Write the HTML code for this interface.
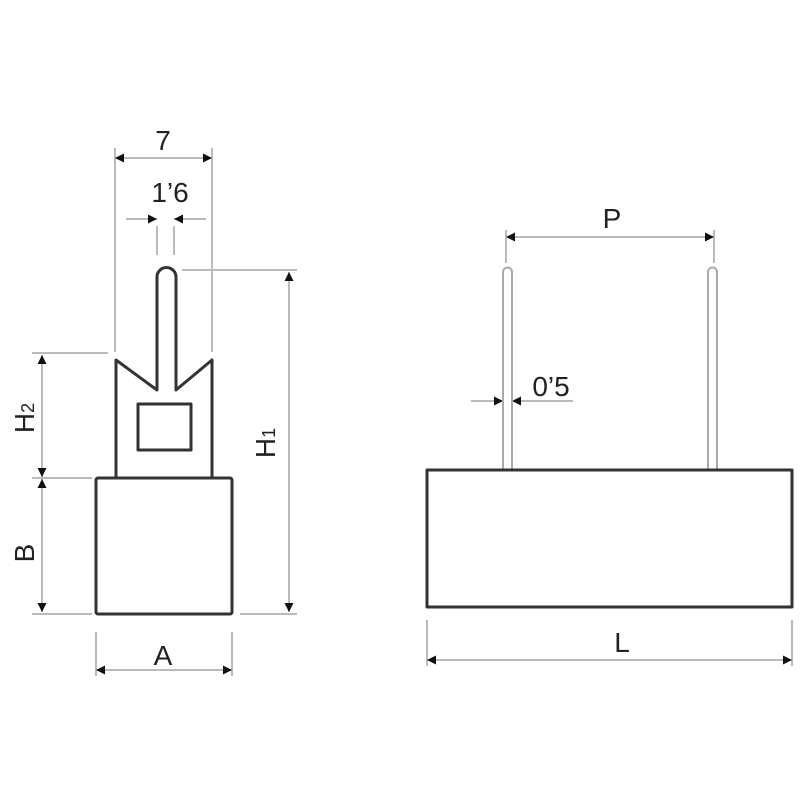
<!DOCTYPE html>
<html><head><meta charset="utf-8"><style>html,body{margin:0;padding:0;background:#fff}svg{display:block}</style></head>
<body>
<svg width="800" height="800" viewBox="0 0 800 800" xmlns="http://www.w3.org/2000/svg">
<defs>
<marker id="a" viewBox="0 0 10 10" refX="10" refY="5" markerWidth="5" markerHeight="5" orient="auto-start-reverse" markerUnits="userSpaceOnUse"><path d="M0,0 L10,5 L0,10z" fill="#111"/></marker>
<marker id="b" viewBox="0 0 10 10" refX="10" refY="5" markerWidth="10" markerHeight="9" orient="auto-start-reverse" markerUnits="userSpaceOnUse"><path d="M0,0 L10,5 L0,10z" fill="#111"/></marker>
</defs>
<g stroke="#bbb" stroke-width="2" fill="none">
<!-- ext lines -->
<line x1="115" y1="148" x2="115" y2="352"/>
<line x1="212" y1="148" x2="212" y2="352"/>
<line x1="157" y1="226" x2="157" y2="255"/>
<line x1="174" y1="226" x2="174" y2="255"/>
<line x1="182" y1="270" x2="297" y2="270"/>
<line x1="32" y1="353" x2="108" y2="353"/>
<line x1="32" y1="478" x2="92" y2="478"/>
<line x1="32" y1="614" x2="92" y2="614"/>
<line x1="240" y1="614" x2="297" y2="614"/>
<line x1="96" y1="632" x2="96" y2="676"/>
<line x1="232" y1="632" x2="232" y2="676"/>
<line x1="506" y1="230" x2="506" y2="263"/>
<line x1="714" y1="230" x2="714" y2="263"/>
<line x1="427" y1="620" x2="427" y2="666"/>
<line x1="792" y1="620" x2="792" y2="666"/>
<!-- dim lines -->
<line x1="115" y1="158" x2="212" y2="158" marker-start="url(#b)" marker-end="url(#b)"/>
<line x1="126" y1="219" x2="157" y2="219" marker-end="url(#b)"/>
<line x1="206" y1="219" x2="174" y2="219" marker-end="url(#b)"/>
<line x1="289" y1="272" x2="289" y2="612" marker-start="url(#b)" marker-end="url(#b)"/>
<line x1="42" y1="355" x2="42" y2="477" marker-start="url(#b)" marker-end="url(#b)"/>
<line x1="42" y1="479" x2="42" y2="612" marker-start="url(#b)" marker-end="url(#b)"/>
<line x1="96" y1="670" x2="232" y2="670" marker-start="url(#b)" marker-end="url(#b)"/>
<line x1="506" y1="237" x2="714" y2="237" marker-start="url(#b)" marker-end="url(#b)"/>
<line x1="471" y1="401" x2="503" y2="401" marker-end="url(#b)"/>
<line x1="573" y1="401" x2="512" y2="401" marker-end="url(#b)"/>
<line x1="427" y1="660" x2="792" y2="660" marker-start="url(#b)" marker-end="url(#b)"/>
<!-- pins right -->
<path d="M503,470 L503,272 A4.5,4.5 0 0 1 512,272 L512,470" stroke="#aaa"/>
<path d="M708,470 L708,272 A4.5,4.5 0 0 1 717,272 L717,470" stroke="#aaa"/>
</g>
<g stroke="#333" stroke-width="3" fill="none" stroke-linejoin="round">
<path d="M116,478 L116,360 L157,390 L157,277 A9.5,9.5 0 0 1 176,277 L176,390 L212,360 L212,478"/>
<rect x="138" y="404" width="53" height="46"/>
<rect x="96" y="478" width="136" height="136" rx="2"/>
<rect x="427" y="470" width="365" height="137"/>
</g>
<g font-family="Liberation Sans, sans-serif" font-size="28" fill="#222" text-anchor="middle">
<text x="163" y="150">7</text>
<text x="170" y="202">1’6</text>
<text x="163" y="665">A</text>
<text x="612" y="228">P</text>
<text x="551" y="396">0’5</text>
<text x="622" y="652">L</text>
<text transform="translate(34,553) rotate(-90)">B</text>
<text transform="translate(34,418) rotate(-90)">H<tspan font-size="18">2</tspan></text>
<text transform="translate(275,443) rotate(-90)">H<tspan font-size="18">1</tspan></text>
</g>
</svg>
</body></html>
